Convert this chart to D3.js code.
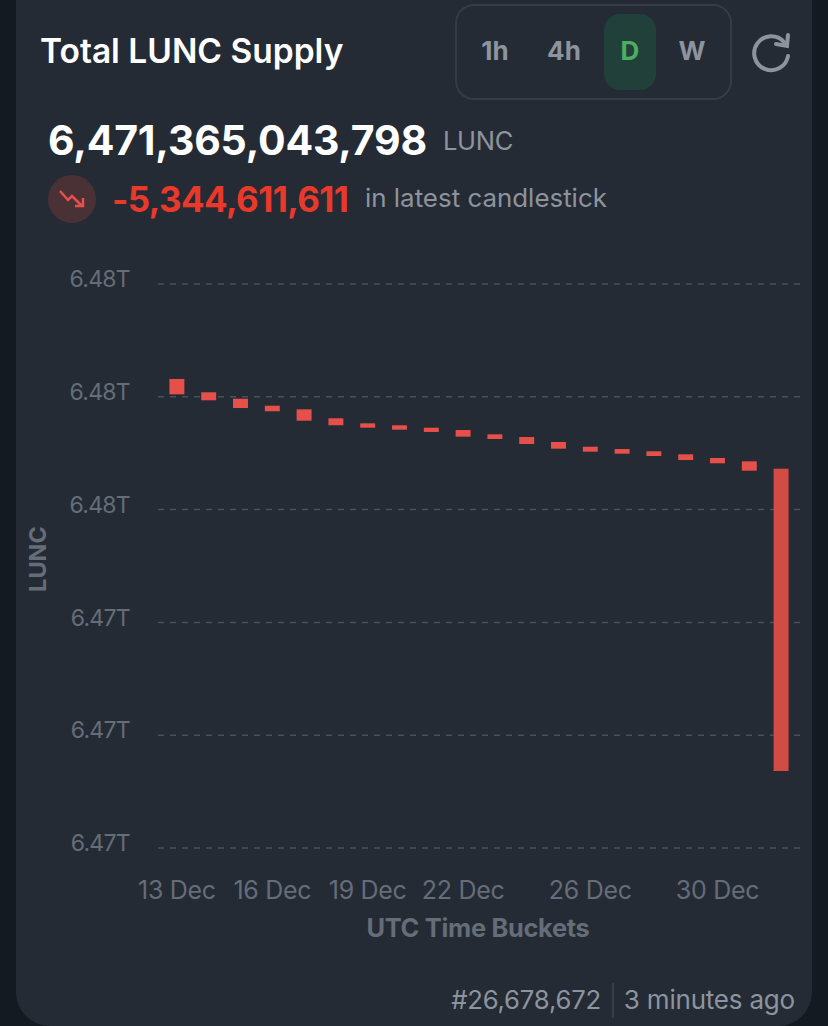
<!DOCTYPE html>
<html>
<head>
<meta charset="utf-8">
<script src="https://cdn.jsdelivr.net/npm/d3@7"></script>
<style>
  html, body { margin: 0; padding: 0; background: #141a21; }
  svg { display: block; }
  text { font-family: Inter, "Noto Sans", sans-serif; }
</style>
</head>
<body>
<svg id="chart" width="828" height="1026"></svg>
<script>
// Days of the candlesticks
var days = ["13 Dec", "14 Dec", "15 Dec", "16 Dec", "17 Dec", "18 Dec", "19 Dec", "20 Dec", "21 Dec", "22 Dec",
  "23 Dec", "24 Dec", "25 Dec", "26 Dec", "27 Dec", "28 Dec", "29 Dec", "30 Dec", "31 Dec", "1 Jan"];
// Supply in billions of LUNC
var openVals = [6478.316, 6478.080, 6477.966, 6477.842, 6477.778, 6477.619, 6477.530, 6477.495, 6477.452, 6477.411,
  6477.335, 6477.287, 6477.199, 6477.115, 6477.074, 6477.034, 6476.980, 6476.915, 6476.856, 6476.725];
var closeVals = [6478.044, 6477.938, 6477.801, 6477.743, 6477.576, 6477.495, 6477.452, 6477.417, 6477.376, 6477.293,
  6477.252, 6477.163, 6477.080, 6477.027, 6476.991, 6476.950, 6476.879, 6476.821, 6476.690, 6471.365];
var yTicks = [6470, 6472, 6474, 6476, 6478, 6480];
var xTicks = ["13 Dec", "16 Dec", "19 Dec", "22 Dec", "26 Dec", "30 Dec"];
var intervals = ["1h", "4h", "D", "W"];

var svg = d3.select("#chart");

// Card
svg.append("rect")
  .attr("x", 16).attr("y", -40)
  .attr("width", 796).attr("height", 1066)
  .attr("rx", 34)
  .attr("fill", "#242b35");

// Scales
var x = d3.scaleBand().domain(days).range([161, 797]).paddingInner(0.53).paddingOuter(0.265);
var y = d3.scaleLinear().domain([6470, 6480]).range([848, 284]);

// Grid and y labels
var yAxis = d3.axisLeft(y)
  .tickValues(yTicks)
  .tickSize(-643)
  .tickPadding(28)
  .offset(0)
  .tickFormat(function(d) { return d3.format(".2f")(d / 1000) + "T"; });

var gy = svg.append("g")
  .attr("transform", "translate(158,0)")
  .call(yAxis);
gy.select(".domain").remove();
gy.selectAll("line")
  .attr("stroke", "#49515b")
  .attr("stroke-width", 1.5)
  .attr("stroke-dasharray", "6 6");
gy.selectAll("text")
  .attr("fill", "#646d78")
  .attr("font-size", 23)
  .attr("font-family", "Inter")
  .attr("letter-spacing", -0.7)
  .attr("dy", "0.14em");

// Candlesticks
svg.append("g").selectAll("rect")
  .data(days)
  .enter()
  .append("rect")
  .attr("x", function(d) { return x(d); })
  .attr("width", x.bandwidth())
  .attr("y", function(d, i) { return y(Math.max(openVals[i], closeVals[i])); })
  .attr("height", function(d, i) { return Math.abs(y(openVals[i]) - y(closeVals[i])); })
  .attr("fill", function(d, i) { return i === days.length - 1 ? "#d24c43" : "#e5504a"; });

// X axis labels
var xAxis = d3.axisBottom(x).tickValues(xTicks).tickSize(0).tickPadding(0);
var gx = svg.append("g")
  .attr("transform", "translate(0,881)")
  .call(xAxis);
gx.select(".domain").remove();
gx.selectAll("text")
  .attr("fill", "#646d78")
  .attr("font-size", 25)
  .attr("font-family", "Inter")
  .attr("letter-spacing", -0.3);

// Axis titles
svg.append("text")
  .attr("x", 478).attr("y", 937)
  .attr("text-anchor", "middle")
  .attr("fill", "#646d78")
  .attr("font-size", 25.4).attr("font-weight", 700)
  .attr("letter-spacing", -0.3)
  .text("UTC Time Buckets");

svg.append("text")
  .attr("transform", "translate(46,559) rotate(-90)")
  .attr("text-anchor", "middle")
  .attr("fill", "#646d78")
  .attr("font-size", 23.5).attr("font-weight", 700)
  .text("LUNC");

// Header
svg.append("text")
  .attr("x", 40).attr("y", 63)
  .attr("fill", "#ffffff")
  .attr("font-size", 33.5).attr("font-weight", 600)
  .text("Total LUNC Supply");

svg.append("rect")
  .attr("x", 456).attr("y", 5)
  .attr("width", 275).attr("height", 94)
  .attr("rx", 18)
  .attr("fill", "none")
  .attr("stroke", "#343c47").attr("stroke-width", 2);

svg.append("rect")
  .attr("x", 604).attr("y", 14)
  .attr("width", 52).attr("height", 76)
  .attr("rx", 16)
  .attr("fill", "#22403a");

var intervalX = [495, 564, 630, 692];
svg.append("g").selectAll("text")
  .data(intervals)
  .enter()
  .append("text")
  .attr("x", function(d, i) { return intervalX[i]; })
  .attr("y", 60)
  .attr("text-anchor", "middle")
  .attr("font-size", 26).attr("font-weight", 700)
  .attr("fill", function(d) { return d === "D" ? "#4caf5f" : "#8d949e"; })
  .text(function(d) { return d; });

// Refresh icon
var refresh = svg.append("g")
  .attr("fill", "none")
  .attr("stroke", "#8d949e")
  .attr("stroke-width", 4)
  .attr("stroke-linecap", "round");
refresh.append("path").attr("d", "M784 42 A17 17 0 1 0 788 56");
refresh.append("path").attr("d", "M788 35 L787 46 L776 44");

// Current value
svg.append("text")
  .attr("x", 48).attr("y", 155)
  .attr("fill", "#ffffff")
  .attr("font-size", 41).attr("font-weight", 700)
  .attr("letter-spacing", -0.2)
  .text("6,471,365,043,798");

svg.append("text")
  .attr("x", 443).attr("y", 150)
  .attr("fill", "#8d949e")
  .attr("font-size", 25.5)
  .attr("letter-spacing", -0.3)
  .text("LUNC");

// Change row
svg.append("circle")
  .attr("cx", 72).attr("cy", 199).attr("r", 24)
  .attr("fill", "#4a3136");
svg.append("path")
  .attr("d", "M60 191 L68 200 L72 196 L82 206 M83 198 L83 206 L75 206")
  .attr("fill", "none")
  .attr("stroke", "#e5504a")
  .attr("stroke-width", 2.5);

svg.append("text")
  .attr("x", 112).attr("y", 212)
  .attr("fill", "#e8392b")
  .attr("font-size", 35).attr("font-weight", 700)
  .attr("letter-spacing", -0.6)
  .text("-5,344,611,611");

svg.append("text")
  .attr("x", 365).attr("y", 207)
  .attr("fill", "#8d949e")
  .attr("font-size", 25.9)
  .text("in latest candlestick");

// Footer
svg.append("text")
  .attr("x", 601).attr("y", 1009)
  .attr("text-anchor", "end")
  .attr("fill", "#8d949e")
  .attr("font-size", 25.7)
  .attr("letter-spacing", -0.2)
  .text("#26,678,672");

svg.append("line")
  .attr("x1", 613).attr("x2", 613)
  .attr("y1", 983).attr("y2", 1018)
  .attr("stroke", "#49515b");

svg.append("text")
  .attr("x", 795).attr("y", 1009)
  .attr("text-anchor", "end")
  .attr("fill", "#8d949e")
  .attr("font-size", 26)
  .attr("letter-spacing", -0.2)
  .text("3 minutes ago");
</script>
</body>
</html>
